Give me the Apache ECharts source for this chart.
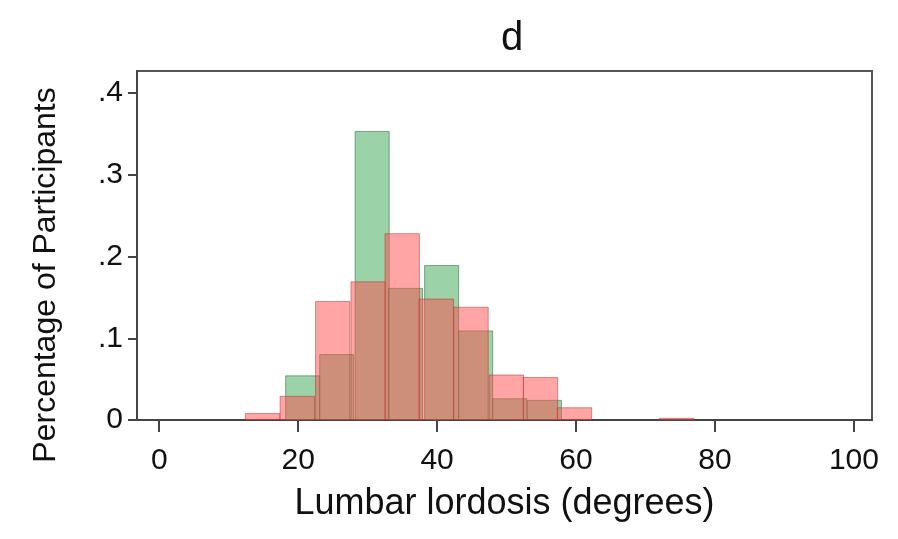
<!DOCTYPE html>
<html>
<head>
<meta charset="utf-8">
<script src="https://cdn.jsdelivr.net/npm/echarts@6/dist/echarts.min.js"></script>
<style>html,body{margin:0;padding:0;background:#fff;}#c{width:898px;height:539px;}</style>
</head>
<body>
<div id="c"></div>
<script>
// Bin left edges and widths (degrees) with fraction of participants
const greenStarts = [18.2, 23.1, 28.2, 33.0, 38.2, 43.1, 48.0, 53.0];
const greenWidth = 4.9;
const greenValues = [0.054, 0.080, 0.353, 0.161, 0.189, 0.109, 0.026, 0.024];

const redStarts = [12.4, 17.4, 22.5, 27.6, 32.5, 37.4, 42.4, 47.5, 52.4, 57.3, 72.0];
const redWidth = 4.95;
const redValues = [0.008, 0.029, 0.145, 0.169, 0.228, 0.148, 0.138, 0.055, 0.052, 0.015, 0.002];

const xTicks = [0, 20, 40, 60, 80, 100];
const yTicks = [0, 0.1, 0.2, 0.3, 0.4];
const yTickLabels = ['0', '.1', '.2', '.3', '.4'];

const titleText = 'd';
const xTitle = 'Lumbar lordosis (degrees)';
const yTitle = 'Percentage of Participants';

function binData(starts, width, values) {
  return starts.map((s, i) => [s, s + width, values[i]]);
}

function makeRender(fill, stroke) {
  return function (params, api) {
    const p0 = api.coord([api.value(0), 0]);
    const p1 = api.coord([api.value(1), api.value(2)]);
    return {
      type: 'rect',
      shape: { x: p0[0], y: p1[1], width: p1[0] - p0[0], height: p0[1] - p1[1] },
      style: { fill: fill, stroke: stroke, lineWidth: 1 }
    };
  };
}

const chart = echarts.init(document.getElementById('c'), null, { renderer: 'canvas' });
const font = 'Liberation Sans, Arial, Helvetica, sans-serif';
chart.setOption({
  backgroundColor: '#fff',
  animation: false,
  title: {
    text: titleText, left: 507, top: 14, textAlign: 'center',
    textStyle: { fontFamily: font, fontSize: 40, fontWeight: 'normal', color: '#111' }
  },
  grid: {
    left: 137, right: 26, top: 71, bottom: 119,
    show: true, borderColor: '#555', borderWidth: 2, backgroundColor: '#fff'
  },
  xAxis: {
    type: 'value', min: -3.2, max: 102.6,
    name: xTitle, nameLocation: 'middle', nameGap: 66,
    nameTextStyle: { fontFamily: font, fontSize: 36, color: '#111' },
    axisLine: { show: true, onZero: false, lineStyle: { color: '#444', width: 2 } },
    axisTick: { show: true, length: 12, customValues: xTicks, lineStyle: { color: '#444', width: 2 } },
    axisLabel: { customValues: xTicks, margin: 26, fontFamily: font, fontSize: 30, color: '#111' },
    splitLine: { show: false }
  },
  yAxis: {
    type: 'value', min: 0, max: 0.427,
    axisLine: { show: true, onZero: false, lineStyle: { color: '#444', width: 2 } },
    axisTick: { show: true, length: 9, customValues: yTicks, lineStyle: { color: '#444', width: 2 } },
    axisLabel: {
      customValues: yTicks, margin: 14, fontFamily: font, fontSize: 30, color: '#111',
      formatter: function (v) {
        const i = yTicks.findIndex(t => Math.abs(t - v) < 1e-9);
        return i >= 0 ? yTickLabels[i] : '';
      }
    },
    splitLine: { show: false }
  },
  graphic: [{
    type: 'text', x: 46, y: 275, rotation: Math.PI / 2,
    style: { text: yTitle, fontFamily: font, fontSize: 32, fill: '#111', align: 'center', verticalAlign: 'middle' }
  }],
  series: [
    {
      type: 'custom', name: 'green', clip: true,
      renderItem: makeRender('rgba(55,165,80,0.5)', 'rgba(40,110,60,0.55)'),
      encode: { x: [0, 1], y: 2 },
      data: binData(greenStarts, greenWidth, greenValues)
    },
    {
      type: 'custom', name: 'red', clip: true,
      renderItem: makeRender('rgba(255,75,75,0.5)', 'rgba(180,50,50,0.5)'),
      encode: { x: [0, 1], y: 2 },
      data: binData(redStarts, redWidth, redValues)
    }
  ]
});
</script>
</body>
</html>
